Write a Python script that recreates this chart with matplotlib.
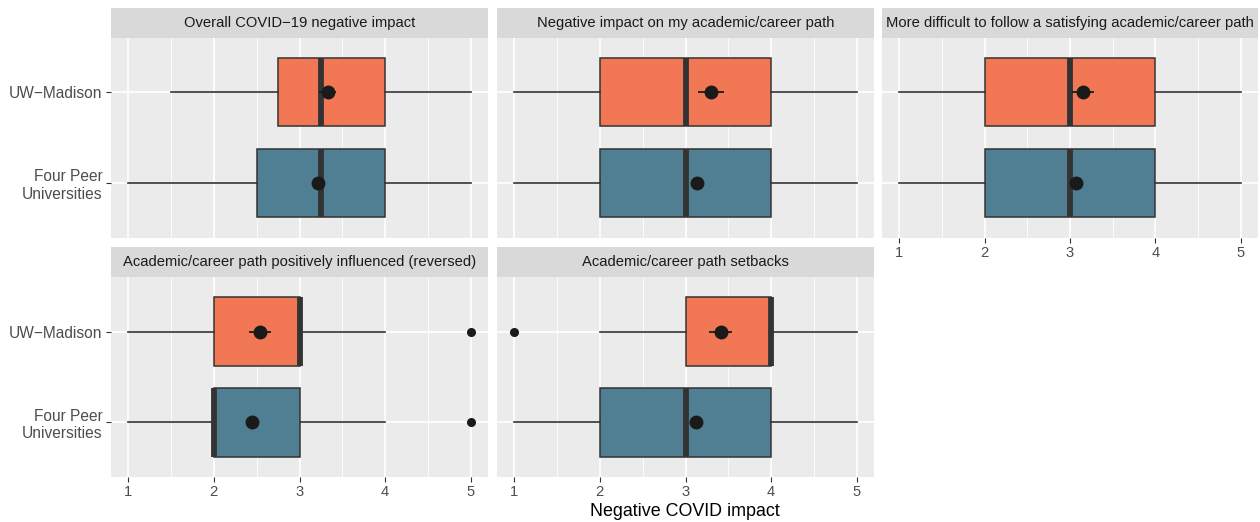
import matplotlib
matplotlib.use("Agg")
import matplotlib.pyplot as plt

plt.rcParams['font.family'] = ['Liberation Sans', 'DejaVu Sans']

# Facet titles (in facet order)
facets = [
    "Overall COVID\u221219 negative impact",
    "Negative impact on my academic/career path",
    "More difficult to follow a satisfying academic/career path",
    "Academic/career path positively influenced (reversed)",
    "Academic/career path setbacks",
]
groups = ["UW\u2212Madison", "Four Peer\nUniversities"]

# Box statistics per facet: [UW-Madison, Four Peer]
whislo = [[1.5, 1.0], [1.0, 1.0], [1.0, 1.0], [1.0, 1.0], [2.0, 1.0]]
q1 =     [[2.75, 2.5], [2.0, 2.0], [2.0, 2.0], [2.0, 2.0], [3.0, 2.0]]
med =    [[3.25, 3.25], [3.0, 3.0], [3.0, 3.0], [3.0, 2.0], [4.0, 3.0]]
q3 =     [[4.0, 4.0], [4.0, 4.0], [4.0, 4.0], [3.0, 3.0], [4.0, 4.0]]
whishi = [[5.0, 5.0], [5.0, 5.0], [5.0, 5.0], [4.0, 4.0], [5.0, 5.0]]
fliers = [[[], []], [[], []], [[], []], [[5.0], [5.0]], [[1.0], []]]

# Group means and their standard errors
means = [[3.33, 3.22], [3.30, 3.13], [3.15, 3.07], [2.54, 2.44], [3.41, 3.12]]
ses =   [[0.10, 0.03], [0.15, 0.04], [0.13, 0.04], [0.13, 0.04], [0.13, 0.04]]

orange = "#F17755"
blue = "#507E92"
fills = [orange, blue]
ypos = [2, 1]

W, H = 1260, 522
fig = plt.figure(figsize=(W / 100, H / 100), dpi=100)

# panel rectangles in pixel units: (left, right, strip_top, strip_bottom, panel_bottom)
cols = [(111, 488), (497, 874), (882, 1258)]
rows = [(8, 37.5, 237.5), (247.5, 277, 477)]

def frac_rect(l, r, t, b):
    return [l / W, 1 - b / H, (r - l) / W, (b - t) / H]

for i, title in enumerate(facets):
    ri, ci = divmod(i, 3)
    l, r = cols[ci]
    st, sb, pb = rows[ri]
    ax = fig.add_axes(frac_rect(l, r, sb, pb))
    sax = fig.add_axes(frac_rect(l, r, st, sb))
    sax.set_facecolor("#D9D9D9")
    sax.set_xticks([]); sax.set_yticks([])
    for s in sax.spines.values():
        s.set_visible(False)
    sax.text(0.5, 0.5, title, ha="center", va="center", fontsize=10.6,
             color="#1A1A1A", transform=sax.transAxes)

    ax.set_facecolor("#EBEBEB")
    for s in ax.spines.values():
        s.set_visible(False)
    ax.set_xlim(0.8, 5.2)
    ax.set_ylim(0.4, 2.6)
    ax.set_xticks([1, 2, 3, 4, 5])
    ax.set_xticks([1.5, 2.5, 3.5, 4.5], minor=True)
    ax.set_yticks([2, 1])
    ax.grid(True, which="major", color="white", linewidth=1.2, zorder=0)
    ax.grid(True, which="minor", axis="x", color="white", linewidth=0.6, zorder=0)
    ax.set_axisbelow(True)
    ax.tick_params(which="minor", length=0)
    ax.tick_params(which="major", length=3.5, width=0.8, color="#333333",
                   labelsize=10.6, labelcolor="#4D4D4D", pad=2.5)
    ax.tick_params(axis="y", labelsize=11.2, pad=2.8)

    stats = []
    for g in range(2):
        stats.append(dict(med=med[i][g], q1=q1[i][g], q3=q3[i][g],
                          whislo=whislo[i][g], whishi=whishi[i][g],
                          fliers=fliers[i][g]))
    bp = ax.bxp(stats, positions=ypos, widths=0.75, orientation="horizontal",
                patch_artist=True, showcaps=False, showfliers=True,
                boxprops=dict(edgecolor="#333333", linewidth=1.1),
                whiskerprops=dict(color="#333333", linewidth=1.2),
                medianprops=dict(color="#333333", linewidth=4.2, solid_capstyle="butt"),
                flierprops=dict(marker="o", markersize=5.5, markerfacecolor="#1A1A1A",
                                markeredgecolor="#1A1A1A", linestyle="none"),
                manage_ticks=False, zorder=2)
    for patch, c in zip(bp["boxes"], fills):
        patch.set_facecolor(c)

    ax.errorbar(means[i], ypos, xerr=ses[i], fmt="none", ecolor="#1A1A1A",
                elinewidth=1.3, capsize=0, zorder=4)
    ax.plot(means[i], ypos, "o", color="#1A1A1A", markersize=9, zorder=5)

    if ci == 0:
        ax.set_yticklabels(groups)
    else:
        ax.tick_params(axis="y", left=False, labelleft=False)
    if ri == 1 or ci == 2:
        ax.set_xticklabels(["1", "2", "3", "4", "5"])
    else:
        ax.tick_params(axis="x", bottom=False, labelbottom=False)

fig.text(684.5 / W, 1 - 511 / H, "Negative COVID impact", ha="center", va="center",
         fontsize=12.9, color="black")

fig.savefig("out.png", dpi=100)
